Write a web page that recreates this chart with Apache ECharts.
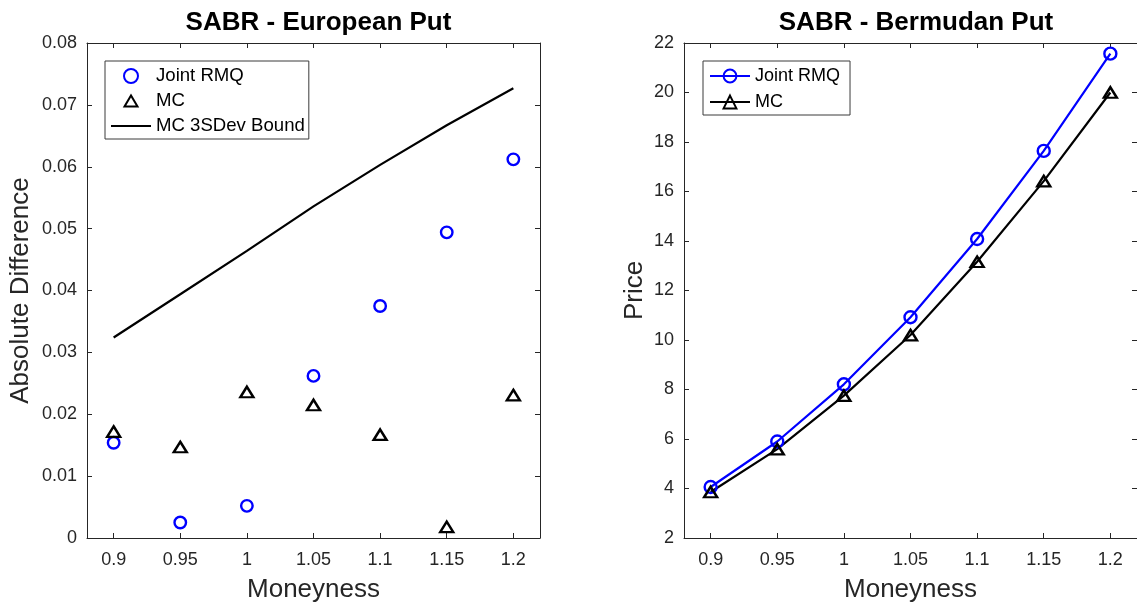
<!DOCTYPE html>
<html>
<head>
<meta charset="utf-8">
<title>SABR - European and Bermudan Put</title>
<script src="https://cdn.jsdelivr.net/npm/echarts@6/dist/echarts.min.js"></script>
<style>
  html, body { margin: 0; padding: 0; background: #fff; }
  #chart { width: 1137px; height: 611px; }
</style>
</head>
<body>
<div id="chart"></div>
<script>
// Moneyness levels shared by both panels
const moneyness = [0.9, 0.95, 1.0, 1.05, 1.1, 1.15, 1.2];
const xTickValues = [0.9, 0.95, 1, 1.05, 1.1, 1.15, 1.2];

// European put: absolute pricing errors
const euroJointRMQ = [0.0154, 0.0025, 0.0052, 0.0262, 0.0375, 0.0494, 0.0612];
const euroMC = [0.0172, 0.0147, 0.0236, 0.0215, 0.0167, 0.0018, 0.0231];
const euroMCBound = [0.0324, 0.0394, 0.0464, 0.0536, 0.0603, 0.0667, 0.0727];

// Bermudan put: prices
const bermJointRMQ = [4.06, 5.90, 8.21, 10.92, 14.08, 17.64, 21.57];
const bermMC = [3.86, 5.59, 7.75, 10.20, 13.16, 16.42, 20.00];

const FONT = 'Liberation Sans, Arial, Helvetica, sans-serif';
const AXIS_COLOR = '#262626';

const pairs = (ys) => moneyness.map((x, i) => [x, ys[i]]);

// Panel geometry
const panels = [
  { left: 87, top: 43, width: 453, height: 495 },
  { left: 684, top: 43, width: 454, height: 495 }
];

function bottomAxis(gridIndex, name) {
  return {
    type: 'value', gridIndex, position: 'bottom',
    min: 0.88, max: 1.22,
    name, nameLocation: 'middle', nameGap: 39,
    nameTextStyle: { fontFamily: FONT, fontSize: 26, color: AXIS_COLOR },
    axisLine: { show: true, onZero: false, lineStyle: { color: AXIS_COLOR, width: 1 } },
    axisTick: { show: true, inside: true, length: 5, customValues: xTickValues, lineStyle: { color: AXIS_COLOR } },
    axisLabel: { show: true, customValues: xTickValues, margin: 13, fontFamily: FONT, fontSize: 18, color: AXIS_COLOR },
    splitLine: { show: false }
  };
}
function topAxis(gridIndex) {
  return {
    type: 'value', gridIndex, position: 'top',
    min: 0.88, max: 1.22,
    axisLine: { show: true, onZero: false, lineStyle: { color: AXIS_COLOR, width: 1 } },
    axisTick: { show: true, inside: true, length: 5, customValues: xTickValues, lineStyle: { color: AXIS_COLOR } },
    axisLabel: { show: false },
    splitLine: { show: false }
  };
}
function leftAxis(gridIndex, min, max, interval, name, nameGap) {
  return {
    type: 'value', gridIndex, position: 'left',
    min, max, interval,
    name, nameLocation: 'middle', nameGap,
    nameTextStyle: { fontFamily: FONT, fontSize: 26, color: AXIS_COLOR },
    axisLine: { show: true, onZero: false, lineStyle: { color: AXIS_COLOR, width: 1 } },
    axisTick: { show: true, inside: true, length: 5, lineStyle: { color: AXIS_COLOR } },
    axisLabel: { show: true, margin: 10, fontFamily: FONT, fontSize: 18, color: AXIS_COLOR },
    splitLine: { show: false }
  };
}
function rightAxis(gridIndex, min, max, interval) {
  return {
    type: 'value', gridIndex, position: 'right',
    min, max, interval,
    axisLine: { show: true, onZero: false, lineStyle: { color: AXIS_COLOR, width: 1 } },
    axisTick: { show: true, inside: true, length: 5, lineStyle: { color: AXIS_COLOR } },
    axisLabel: { show: false },
    splitLine: { show: false }
  };
}

const circleStyle = { color: 'rgba(0,0,0,0)', borderColor: '#0000ff', borderWidth: 2.4, opacity: 1 };
const triangleStyle = { color: 'rgba(0,0,0,0)', borderColor: '#000000', borderWidth: 2.4, opacity: 1 };

// Outlined triangle for the legend, padded inside a square box
const legendTriangle = 'path://M0,0M14,14M0.5,12.5L7,1.5L13.5,12.5Z';
// Short solid bar standing for the bound line in the legend
const legendBar = 'path://M0,0H40V2.2H0Z';

const option = {
  backgroundColor: '#ffffff',
  animation: false,
  title: [
    {
      text: 'SABR - European Put',
      left: panels[0].left + panels[0].width / 2, top: 5, textAlign: 'center',
      textStyle: { fontFamily: FONT, fontSize: 26, fontWeight: 'bold', color: '#000' }
    },
    {
      text: 'SABR - Bermudan Put',
      left: panels[1].left + panels[1].width / 2, top: 5, textAlign: 'center',
      textStyle: { fontFamily: FONT, fontSize: 26, fontWeight: 'bold', color: '#000' }
    }
  ],
  legend: [
    {
      data: [
        { name: 'Joint RMQ', icon: 'circle' },
        { name: 'MC', icon: legendTriangle },
        { name: 'MC 3SDev Bound', icon: legendBar }
      ],
      orient: 'vertical',
      left: 105, top: 61,
      padding: [5, 4, 3, 6],
      itemWidth: 40, itemHeight: 14, itemGap: 5,
      backgroundColor: '#ffffff',
      borderColor: '#3a3a3a', borderWidth: 1,
      textStyle: { fontFamily: FONT, fontSize: 18.6, color: '#000', lineHeight: 20 },
      selectedMode: false
    },
    {
      data: [{ name: 'Joint RMQ ' }, { name: 'MC ' }],
      orient: 'vertical',
      left: 703, top: 61,
      padding: [5, 5, 3, 6],
      itemWidth: 40, itemHeight: 16, itemGap: 6,
      backgroundColor: '#ffffff',
      borderColor: '#3a3a3a', borderWidth: 1,
      textStyle: { fontFamily: FONT, fontSize: 18, color: '#000', lineHeight: 20 },
      selectedMode: false
    }
  ],
  grid: panels.map(p => ({ left: p.left, top: p.top, width: p.width, height: p.height, containLabel: false })),
  xAxis: [
    bottomAxis(0, 'Moneyness'),
    topAxis(0),
    bottomAxis(1, 'Moneyness'),
    topAxis(1)
  ],
  yAxis: [
    leftAxis(0, 0, 0.08, 0.01, 'Absolute Difference', 53),
    rightAxis(0, 0, 0.08, 0.01),
    leftAxis(1, 2, 22, 2, 'Price', 36),
    rightAxis(1, 2, 22, 2)
  ],
  series: [
    {
      name: 'Joint RMQ', type: 'scatter', xAxisIndex: 0, yAxisIndex: 0,
      data: pairs(euroJointRMQ),
      symbol: 'circle', symbolSize: 11.5,
      itemStyle: circleStyle
    },
    {
      name: 'MC', type: 'scatter', xAxisIndex: 0, yAxisIndex: 0,
      data: pairs(euroMC),
      symbol: 'triangle', symbolSize: [13, 10.5],
      itemStyle: triangleStyle
    },
    {
      name: 'MC 3SDev Bound', type: 'line', xAxisIndex: 0, yAxisIndex: 0,
      data: pairs(euroMCBound),
      symbol: 'none', showSymbol: false,
      lineStyle: { color: '#000000', width: 2.2 },
      itemStyle: { color: '#000000' }
    },
    {
      name: 'Joint RMQ ', type: 'line', xAxisIndex: 2, yAxisIndex: 2,
      data: pairs(bermJointRMQ),
      symbol: 'circle', symbolSize: 12, showSymbol: true,
      lineStyle: { color: '#0000ff', width: 2.2 },
      itemStyle: circleStyle
    },
    {
      name: 'MC ', type: 'line', xAxisIndex: 2, yAxisIndex: 2,
      data: pairs(bermMC),
      symbol: 'triangle', symbolSize: [13, 10.5], showSymbol: true,
      lineStyle: { color: '#000000', width: 2.2 },
      itemStyle: triangleStyle
    }
  ]
};

const chart = echarts.init(document.getElementById('chart'), null, { renderer: 'canvas' });
chart.setOption(option);
</script>
</body>
</html>
